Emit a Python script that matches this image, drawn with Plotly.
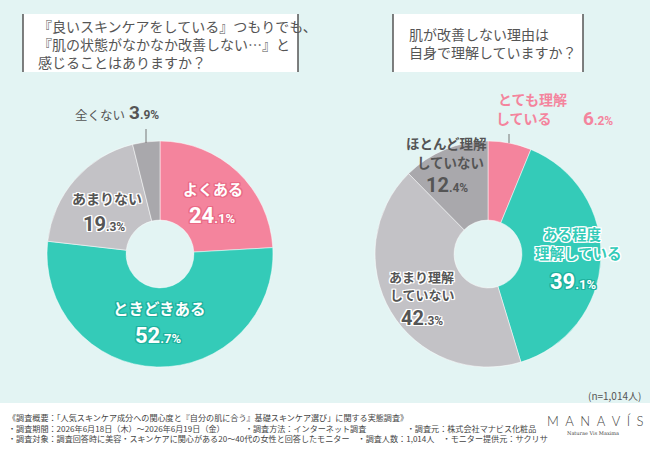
import plotly.graph_objects as go

W, H = 650, 450

left_title = "『良いスキンケアをしている』つもりでも、<br>『肌の状態がなかなか改善しない…』と<br>感じることはありますか？"
right_title = "肌が改善しない理由は<br>自身で理解していますか？"

left_labels = ["よくある", "ときどきある", "あまりない", "全くない"]
left_values = [24.1, 52.7, 19.3, 3.9]
right_labels = ["とても理解している", "ある程度理解している", "あまり理解していない", "ほとんど理解していない"]
right_label_lines = [("とても理解", "している"), ("ある程度", "理解している"),
                     ("あまり理解", "していない"), ("ほとんど理解", "していない")]
right_values = [6.2, 39.1, 42.3, 12.4]

PINK = "#f4849d"
TEAL = "#34cbb8"
LGRAY = "#c3c2c6"
DGRAY = "#a9a8ac"
TXT = "#555555"
BG = "#e3f4f3"

left_colors = [PINK, TEAL, LGRAY, DGRAY]
right_colors = [PINK, TEAL, LGRAY, DGRAY]

n_note = "(n=1,014人)"
footer_lines = [
    "《調査概要：「人気スキンケア成分への関心度と『自分の肌に合う』基礎スキンケア選び」に関する実態調査》",
    "・調査期間：2026年6月18日（木）～2026年6月19日（金）　　　・調査方法：インターネット調査　　　　　・調査元：株式会社マナビス化粧品",
    "・調査対象：調査回答時に美容・スキンケアに関心がある20～40代の女性と回答したモニター　・調査人数：1,014人　・モニター提供元：サクリサ",
]
logo = "M\u2002A\u2002N\u2002A\u2002V\u2002Í\u2002S"
logo_sub = "Naturae Vis Maxima"

JP = "Noto Sans CJK JP"
NUM = "Liberation Sans Narrow, Roboto, Noto Sans CJK JP"


def px(x):
    return x / W


def py(y):
    return 1 - y / H


def outline(c, w=1.2):
    return ", ".join(f"{dx}px {dy}px 0 {c}" for dx, dy in
                     [(w, 0), (-w, 0), (0, w), (0, -w), (w, w), (-w, -w), (w, -w), (-w, w)])


def pct(v, small=13):
    s = f"{v:.1f}"
    i, d = s.split(".")
    return f"{i}<span style='font-size:{small}px'>.{d}%</span>"


fig = go.Figure()

fig.add_trace(go.Pie(
    labels=left_labels, values=left_values, sort=False, direction="clockwise",
    rotation=0, hole=0.3, textinfo="none", hoverinfo="label+percent",
    marker=dict(colors=left_colors, line=dict(color="white", width=0.5)),
    domain=dict(x=[px(47), px(273)], y=[py(367), py(141)]), showlegend=False,
))
fig.add_trace(go.Pie(
    labels=right_labels, values=right_values, sort=False, direction="clockwise",
    rotation=0, hole=0.3, textinfo="none", hoverinfo="label+percent",
    marker=dict(colors=right_colors, line=dict(color="white", width=0.5)),
    domain=dict(x=[px(375), px(601)], y=[py(367), py(141)]), showlegend=False,
))

shapes = []
# footer white band
shapes.append(dict(type="rect", xref="paper", yref="paper", x0=0, x1=1, y0=0, y1=py(403),
                   fillcolor="white", line=dict(width=0), layer="below"))
# title boxes
for (x0, x1) in [(23, 298), (393, 583)]:
    shapes.append(dict(type="rect", xref="paper", yref="paper", x0=px(x0), x1=px(x1),
                       y0=py(72), y1=py(14), fillcolor="white", line=dict(width=0), layer="below"))
    for xx in (x0, x1):
        shapes.append(dict(type="line", xref="paper", yref="paper", x0=px(xx), x1=px(xx),
                           y0=py(72), y1=py(14), line=dict(color="#555555", width=1.5)))
# leader lines
shapes.append(dict(type="line", xref="paper", yref="paper", x0=px(146), x1=px(146),
                   y0=py(143), y1=py(129), line=dict(color="#777777", width=1)))
shapes.append(dict(type="line", xref="paper", yref="paper", x0=px(509), x1=px(509),
                   y0=py(143), y1=py(134), line=dict(color="#777777", width=1)))

ann = []


def A(x, y, text, size, color, family=JP, shadow=None, xanchor="center", weight="normal"):
    f = dict(family=family, size=size, color=color, weight=weight)
    if shadow:
        f["shadow"] = shadow
    ann.append(dict(x=px(x), y=py(y), xref="paper", yref="paper", text=text, showarrow=False,
                    xanchor=xanchor, yanchor="middle", font=f,
                    align="left" if xanchor == "left" else "center"))


# titles
ann.append(dict(x=px(36), y=py(44), xref="paper", yref="paper", text=left_title, showarrow=False,
                xanchor="left", yanchor="middle", align="left",
                font=dict(family=JP, size=14, color=TXT)))
ann.append(dict(x=px(407), y=py(43), xref="paper", yref="paper", text=right_title, showarrow=False,
                xanchor="left", yanchor="middle", align="left",
                font=dict(family=JP, size=14, color=TXT)))

# left chart labels
PINK_D = "#ea6a86"
TEAL_D = "#1fb19e"
A(213, 189, left_labels[0], 15, "white", shadow=outline(PINK_D), weight="bold")
A(212, 215, pct(left_values[0]), 22, "white", family=NUM, shadow=outline(PINK_D), weight="bold")
A(159, 308, left_labels[1], 15.5, "white", shadow=outline(TEAL_D), weight="bold")
A(158, 335, pct(left_values[1]), 22, "white", family=NUM, shadow=outline(TEAL_D), weight="bold")
A(107, 198, left_labels[2], 14, TXT, shadow=outline("white"), weight="bold")
A(104, 224, pct(left_values[2], 12), 20, TXT, family=NUM, shadow=outline("white"), weight="bold")
A(100, 115, left_labels[3], 12.5, TXT)
A(144, 113, pct(left_values[3], 12), 19, TXT, family=NUM, weight="bold")

# right chart labels
l0, l1 = right_label_lines[0]
A(532, 99, l0, 14, PINK, weight="bold")
A(524, 118, l1, 14, PINK, weight="bold")
A(598, 118, pct(right_values[0], 12), 19, PINK, family=NUM, weight="bold")
l0, l1 = right_label_lines[1]
A(572, 233, l0, 14.5, TEAL, shadow=outline("white"), weight="bold")
A(578, 253, l1, 14.5, TEAL, shadow=outline("white"), weight="bold")
A(573, 281, pct(right_values[1]), 22, "white", family=NUM, shadow=outline(TEAL_D), weight="bold")
l0, l1 = right_label_lines[2]
A(421, 276, l0, 13, TXT, shadow=outline("white"), weight="bold")
A(422, 294, l1, 13, TXT, shadow=outline("white"), weight="bold")
A(422, 318, pct(right_values[2], 12), 20, TXT, family=NUM, shadow=outline("white"), weight="bold")
l0, l1 = right_label_lines[3]
A(446, 143, l0, 13.5, TXT, weight="bold")
A(450, 162, l1, 13.5, TXT, weight="bold")
A(447, 185, pct(right_values[3], 12), 20, TXT, family=NUM, weight="bold")

# n note
ann.append(dict(x=px(643), y=py(395), xref="paper", yref="paper", text=n_note, showarrow=False,
                xanchor="right", yanchor="middle", font=dict(family=JP, size=10, color=TXT)))
# footer (one block, three lines)
ann.append(dict(x=px(6), y=py(427.5), xref="paper", yref="paper", text="<br>".join(footer_lines),
                showarrow=False, xanchor="left", yanchor="middle", align="left",
                font=dict(family=JP, size=8.1, color="#444444")))
# logo
ann.append(dict(x=px(595), y=py(421), xref="paper", yref="paper", text=logo, showarrow=False,
                xanchor="center", yanchor="middle",
                font=dict(family="Lato", size=13, color="#444444", weight=300)))
ann.append(dict(x=px(593), y=py(433), xref="paper", yref="paper", text=logo_sub, showarrow=False,
                xanchor="center", yanchor="middle",
                font=dict(family="DejaVu Serif", size=5, color="#444444")))

fig.update_layout(
    width=W, height=H, margin=dict(l=0, r=0, t=0, b=0),
    paper_bgcolor=BG, plot_bgcolor=BG,
    shapes=shapes, annotations=ann,
)

fig.write_html("out.html")
